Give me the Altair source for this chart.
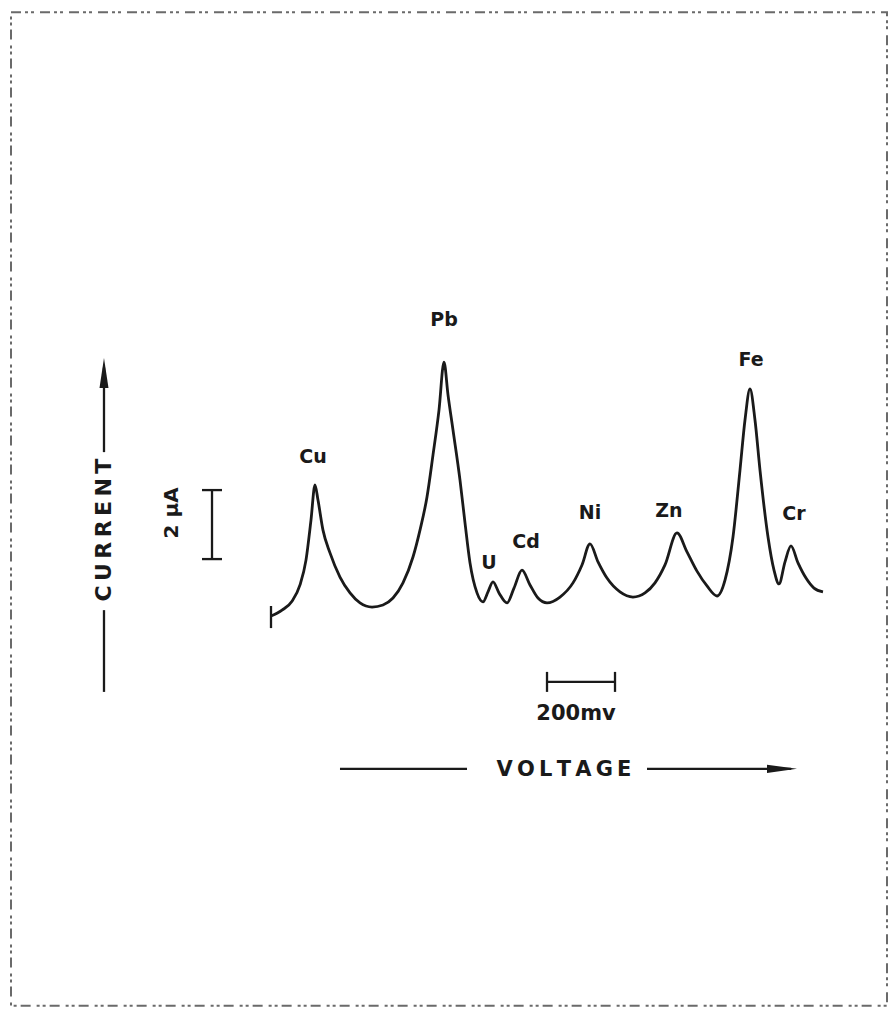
import altair as alt
import pandas as pd

# ---- polarogram trace: relative voltage (mV) and current (uA) ----
voltage_mv = [0.0, 32.4, 61.8, 85.3, 102.9, 117.6, 129.4, 138.2, 152.9, 173.5, 202.9,
              232.4, 261.8, 297.1, 329.4, 358.8, 388.2, 417.6, 438.2, 458.8, 476.5,
              494.1, 508.8, 520.6, 535.3, 555.9, 570.6, 585.3, 605.9, 623.5, 638.2,
              652.9, 670.6, 694.1, 714.7, 738.2, 761.8, 785.3, 811.8, 850.0, 888.2,
              914.7, 938.2, 961.8, 988.2, 1026.5, 1064.7, 1100.0, 1129.4, 1158.8, 1194.1,
              1223.5, 1252.9, 1282.4, 1311.8, 1335.3, 1358.8, 1379.4, 1394.1, 1408.8, 1423.5,
              1438.2, 1461.8, 1479.4, 1494.1, 1511.8, 1529.4, 1550.0, 1573.5, 1597.1, 1623.5]
current_ua = [0.0, 0.17, 0.43, 0.90, 1.62, 2.78, 3.80, 3.36, 2.49, 1.83, 1.13,
              0.67, 0.38, 0.26, 0.32, 0.52, 0.96, 1.71, 2.49, 3.45, 4.67,
              5.97, 7.36, 6.41, 5.39, 3.94, 2.70, 1.54, 0.67, 0.41, 0.70,
              0.99, 0.67, 0.38, 0.81, 1.33, 0.90, 0.52, 0.38, 0.55, 0.96,
              1.48, 2.09, 1.57, 1.10, 0.70, 0.55, 0.67, 0.96, 1.48, 2.41,
              1.86, 1.30, 0.87, 0.58, 1.04, 2.29, 4.23, 5.68, 6.58, 5.68,
              4.23, 2.29, 1.33, 0.93, 1.57, 2.03, 1.54, 1.10, 0.81, 0.70]

# ---- peak labels ----
peak_names = ["Cu", "Pb", "U", "Cd", "Ni", "Zn", "Fe", "Cr"]
peak_label_mv = [123.5, 508.8, 641.2, 750.0, 938.2, 1170.6, 1411.8, 1538.2]
peak_label_ua = [4.61, 8.58, 1.54, 2.14, 2.99, 3.04, 7.42, 2.96]

# ---- annotation line segments (data units) ----
seg_x1 = [-491.2, -491.2, -173.5, -202.9, -202.9, 811.8, 811.8, 1011.8, 202.9, 1105.9, 0.0]
seg_x2 = [-491.2, -491.2, -173.5, -144.1, -144.1, 1011.8, 811.8, 1011.8, 576.5, 1530.0, 0.0]
seg_y1 = [-2.20, 4.75, 1.65, 1.65, 3.65, -1.91, -1.62, -1.62, -4.43, -4.43, 0.29]
seg_y2 = [0.17, 7.20, 3.65, 1.65, 3.65, -1.91, -2.20, -2.20, -4.43, -4.43, -0.35]

# arrowheads
arrow_mv = [-491.2, 1502.9]
arrow_ua = [7.04, -4.43]
arrow_dir = ["up", "right"]

# axis captions and scale-bar labels (thin spaces widen the lettering)
TS = "\u2009"
cap_text = [TS.join("CURRENT"), "2 μA", "200mv", TS.join("VOLTAGE")]
cap_mv = [-491.2, -291.2, 897.1, 861.8]
cap_ua = [2.49, 2.99, -2.84, -4.46]
cap_angle = [270, 270, 0, 0]
cap_size = [22, 20, 21, 21]

# frame
frame_mv = [-764.7, 1811.8]
frame_ua = [-11.30, 17.5]

XDOM = [-773.53, 1814.71]
YDOM = [-11.362, 17.623]
INK = "#1a1a1a"
FONT = "DejaVu Sans"

xs = alt.Scale(domain=XDOM, nice=False, zero=False)
ys = alt.Scale(domain=YDOM, nice=False, zero=False)

curve_df = pd.DataFrame({"v": voltage_mv, "i": current_ua})
lab_df = pd.DataFrame({"name": peak_names, "v": peak_label_mv, "i": peak_label_ua})
seg_df = pd.DataFrame({"x1": seg_x1, "x2": seg_x2, "y1": seg_y1, "y2": seg_y2})
arr_df = pd.DataFrame({"v": arrow_mv, "i": arrow_ua, "d": arrow_dir})
cap_df = pd.DataFrame({"t": cap_text, "v": cap_mv, "i": cap_ua, "a": cap_angle, "s": cap_size})
frame_df = pd.DataFrame({"x1": [frame_mv[0]], "x2": [frame_mv[1]], "y1": [frame_ua[0]], "y2": [frame_ua[1]]})

frame = alt.Chart(frame_df).mark_rect(
    filled=False, stroke="#6a6a6a", strokeWidth=2, strokeDash=[10, 4, 3, 3, 3, 6]
).encode(
    x=alt.X("x1:Q", scale=xs, axis=None), x2="x2:Q",
    y=alt.Y("y1:Q", scale=ys, axis=None), y2="y2:Q",
)

curve = alt.Chart(curve_df).mark_line(
    color=INK, strokeWidth=2.8, interpolate="monotone"
).encode(
    x=alt.X("v:Q", scale=xs, axis=None),
    y=alt.Y("i:Q", scale=ys, axis=None),
)

segs = alt.Chart(seg_df).mark_rule(color=INK, strokeWidth=2.3).encode(
    x=alt.X("x1:Q", scale=xs, axis=None), x2="x2:Q",
    y=alt.Y("y1:Q", scale=ys, axis=None), y2="y2:Q",
)

arrow_up = alt.Chart(arr_df[arr_df.d == "up"]).mark_point(
    shape="M0,-1L0.3,1L-0.3,1Z", filled=True, color=INK, size=900, opacity=1
).encode(x=alt.X("v:Q", scale=xs, axis=None), y=alt.Y("i:Q", scale=ys, axis=None))

arrow_right = alt.Chart(arr_df[arr_df.d == "right"]).mark_point(
    shape="M1,0L-1,-0.27L-1,0.27Z", filled=True, color=INK, size=900, opacity=1
).encode(x=alt.X("v:Q", scale=xs, axis=None), y=alt.Y("i:Q", scale=ys, axis=None))

labels = alt.Chart(lab_df).mark_text(
    font=FONT, fontWeight="bold", fontSize=19, color=INK, align="center", baseline="middle"
).encode(
    x=alt.X("v:Q", scale=xs, axis=None), y=alt.Y("i:Q", scale=ys, axis=None), text="name:N"
)

caps = alt.Chart(cap_df).mark_text(
    font=FONT, fontWeight="bold", color=INK, align="center", baseline="middle"
).encode(
    x=alt.X("v:Q", scale=xs, axis=None), y=alt.Y("i:Q", scale=ys, axis=None),
    text="t:N", angle=alt.Angle("a:Q", scale=None), size=alt.Size("s:Q", scale=None, legend=None),
)

chart = alt.layer(frame, curve, segs, arrow_up, arrow_right, labels, caps).properties(
    width=880, height=1000, padding=0, autosize=alt.AutoSizeParams(type="none"),
    background="white",
).configure_view(stroke=None)

chart.save("out.html", embed_options={"renderer": "svg", "actions": False})
